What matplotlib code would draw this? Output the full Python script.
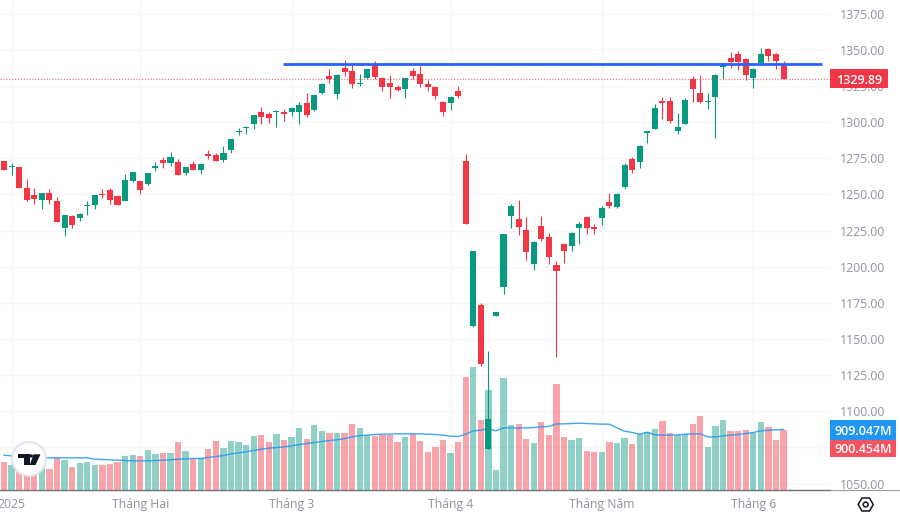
import numpy as np
import matplotlib
matplotlib.use("Agg")
import matplotlib.pyplot as plt
from matplotlib.lines import Line2D
from matplotlib.patches import Circle, Polygon, RegularPolygon, Rectangle
from matplotlib.transforms import IdentityTransform

open_ = [1273.0,1269.3,1268.8,1254.7,1249.4,1246.0,1251.0,1245.7,1226.8,1235.1,1233.5,1241.8,1242.7,1250.1,1252.9,1248.7,
 1245.5,1259.6,1259.1,1257.0,1268.6,1273.6,1272.0,1272.7,1265.1,1271.1,1267.2,1278.0,1277.3,1273.9,1280.8,1293.0,1295.8,
 1298.6,1307.3,1305.5,1307.3,1307.3,1307.3,1306.9,1313.1,1308.2,1320.0,1332.0,1319.3,1337.8,1335.7,1326.5,1330.6,1340.3,
 1330.6,1327.2,1324.2,1323.2,1335.7,1333.4,1326.2,1324.6,1314.0,1313.1,1321.9,
 1273.2,1159.2,1173.5,1073.7,1166.1,1185.7,1234.9,1232.8,1225.4,1201.6,1228.4,1220.6,1201.4,1215.9,1214.6,1227.0,1234.6,1227.5,1233.9,1244.8,1241.1,
 1255.2,1274.6,1272.5,1292.8,1295.1,1314.5,1314.7,1293.7,1298.6,1329.9,1320.5,1314.0,1317.2,1338.2,1344.5,1347.0,1343.8,1330.8,1341.2,1350.7,1347.0,1339.4]
high = [1273.0,1271.6,1269.3,1260.5,1254.3,1251.0,1253.6,1248.0,1236.0,1235.6,1237.4,1245.7,1249.6,1253.6,1254.3,1249.4,
 1264.2,1265.6,1259.1,1265.1,1272.3,1275.7,1279.4,1274.3,1268.8,1273.0,1270.9,1280.8,1278.9,1283.8,1288.6,1296.0,1297.4,
 1305.0,1310.3,1307.1,1308.5,1308.9,1310.3,1314.0,1320.0,1318.6,1326.9,1336.6,1333.4,1343.1,1341.2,1333.4,1336.8,1342.4,
 1331.1,1332.9,1325.8,1330.4,1337.8,1338.9,1329.2,1325.1,1314.7,1317.9,1325.1,
 1278.0,1211.1,1174.7,1141.9,1168.7,1222.6,1243.2,1246.2,1234.2,1217.8,1235.1,1223.1,1203.7,1216.4,1224.3,1230.7,1235.1,1229.6,1241.8,1251.2,1251.0,
 1271.6,1275.7,1284.2,1294.2,1312.4,1317.2,1317.2,1306.4,1317.0,1332.0,1332.7,1320.5,1333.4,1340.8,1348.6,1349.1,1344.5,1337.3,1351.2,1351.2,1347.7,1342.2]
low = [1266.7,1263.7,1254.7,1245.7,1243.4,1240.2,1243.7,1230.7,1221.3,1227.0,1231.4,1235.8,1240.2,1247.3,1243.4,1242.5,
 1245.5,1258.9,1250.3,1256.3,1266.5,1268.6,1269.7,1263.3,1263.7,1267.2,1264.2,1274.3,1273.0,1272.5,1278.9,1291.2,1291.6,
 1295.1,1299.0,1299.7,1296.9,1301.1,1304.6,1299.0,1303.9,1307.8,1319.5,1326.9,1316.3,1332.0,1323.9,1325.1,1329.7,1329.7,
 1321.6,1316.8,1321.9,1317.0,1329.7,1324.2,1321.9,1316.3,1304.3,1308.5,1317.0,
 1229.6,1158.5,1131.3,1073.7,1166.1,1180.9,1226.8,1222.2,1204.6,1197.9,1217.6,1202.1,1137.7,1202.6,1210.9,1215.7,1222.9,1222.9,1229.1,1240.9,1240.9,
 1254.0,1265.1,1268.3,1285.9,1295.1,1302.2,1299.5,1292.1,1298.6,1314.0,1313.5,1308.9,1289.3,1329.9,1337.3,1336.2,1329.2,1323.5,1340.8,1342.4,1336.6,1329.89]
close = [1266.7,1269.9,1254.7,1246.4,1246.9,1251.0,1246.0,1230.7,1236.0,1229.1,1236.5,1242.5,1249.6,1249.6,1246.2,1242.5,
 1259.8,1265.3,1253.3,1265.1,1269.7,1271.6,1275.7,1263.3,1268.8,1267.2,1270.9,1276.4,1273.0,1278.5,1288.6,1293.5,1296.9,
 1305.0,1303.6,1302.9,1308.0,1305.5,1309.9,1312.2,1304.8,1318.6,1326.2,1330.2,1332.9,1334.8,1326.7,1326.9,1336.8,1331.5,
 1324.6,1324.2,1322.3,1330.4,1332.2,1326.2,1324.2,1317.9,1307.3,1317.5,1317.9,
 1229.6,1211.1,1132.7,1094.4,1168.7,1222.6,1242.0,1227.7,1210.4,1217.3,1218.9,1207.0,1197.3,1210.9,1223.6,1229.3,1226.8,1226.3,1240.4,1242.0,1250.6,
 1270.4,1267.2,1283.3,1294.0,1309.8,1313.5,1301.1,1297.0,1315.6,1323.2,1314.0,1314.7,1332.9,1340.1,1341.9,1341.9,1332.9,1336.8,1347.2,1345.8,1342.4,1329.89]
volume = [413,378,390,300,310,340,307,469,444,338,398,413,368,368,388,413,504,529,514,590,539,549,559,726,580,454,484,620,736,630,
 736,716,675,811,832,716,842,756,801,937,771,978,892,852,852,852,998,932,822,811,827,822,716,796,837,736,570,640,756,559,716,
 1704,1850,1048,1502,292,1683,978,998,771,706,1028,822,1598,791,746,786,580,570,564,726,696,776,690,837,877,912,1043,852,822,847,
 988,1114,640,958,1048,892,892,907,862,1028,942,756,900.454]
vol_ma = [519,509,504,499,494,489,479,479,479,479,479,479,459,454,449,444,438,433,433,433,438,444,449,459,464,469,469,484,499,514,
 539,554,570,590,610,625,635,645,660,680,695,711,726,741,751,771,796,816,822,832,837,837,842,842,842,842,837,832,822,806,801,837,
 887,897,922,887,932,932,932,932,937,948,953,993,993,998,1003,998,993,988,988,932,882,862,837,867,827,822,822,827,837,842,842,796,
 796,811,822,832,847,862,887,897,902,909.047]
price_ticks = [1050,1075,1100,1125,1150,1175,1200,1225,1250,1275,1300,1325,1350,1375]
price_tick_labels = ["1050.00","","1100.00","1125.00","1150.00","1175.00","1200.00","1225.00","1250.00","1275.00","1300.00","1325.00","1350.00","1375.00"]
time_tick_pos = [1,18,38,59,79,99]
time_tick_labels = ["2025","Tháng Hai","Tháng 3","Tháng 4","Tháng Năm","Tháng 6"]
resistance = 1340.3
last_price = 1329.89

UP, DOWN = "#089981", "#f23645"
plt.rcParams["font.family"] = ["Open Sans", "DejaVu Sans"]

fig = plt.figure(figsize=(9, 5.17), dpi=100, facecolor="white")
ax = fig.add_axes([0, 27.5/517, 830/900, 489.5/517])
xlim = (-0.5285, 109.14)
ylim = (1045.85, 1384.6)
ax.set_xlim(*xlim); ax.set_ylim(*ylim)
ax.set_yticks(price_ticks)
ax.set_yticklabels(price_tick_labels, va="center_baseline")
ax.set_xticks(time_tick_pos); ax.set_xticklabels(time_tick_labels)
ax.grid(True, color="#f5f6f7", lw=1)
ax.set_axisbelow(True)
for s in ("top", "left", "right"):
    ax.spines[s].set_visible(False)
ax.spines["bottom"].set_color("#6f727c")
ax.spines["bottom"].set_linewidth(1.0)

idx = np.arange(len(close))
o, h, l, c = map(np.array, (open_, high, low, close))
cols = np.where(c >= o, UP, DOWN)

axv = ax.twinx()
axv.set_ylim(0, 7405)
axv.set_yticks([])
axv.patch.set_visible(False)
for s in axv.spines.values():
    s.set_visible(False)
axv.bar(idx, volume, width=0.83, color=cols, alpha=0.45, linewidth=0)
axv.plot(idx, vol_ma, color="#2196f3", lw=1.0, alpha=0.85, solid_joinstyle="round")

axc = ax.twinx()
axc.set_ylim(*ylim)
axc.set_yticks([])
axc.patch.set_visible(False)
for s in axc.spines.values():
    s.set_visible(False)
axc.vlines(idx, l, h, colors=cols, lw=0.8)
axc.bar(idx, np.maximum(np.abs(c - o), 0.6), bottom=np.minimum(o, c), width=0.8,
        color=cols, linewidth=0)
axc.axhline(last_price, color=DOWN, lw=0.8, ls=(0, (1, 1.6)), alpha=0.75)
axc.hlines(resistance, 36.9, 108.1, color="#2962ff", lw=2.0)

# twinx moves the price labels to the left, so set the right side after it
ax.yaxis.tick_right()
ax.tick_params(axis="both", length=0, labelsize=8.8, labelcolor="#8f939e")
ax.tick_params(axis="y", pad=7)
ax.tick_params(axis="x", pad=6)

ident = IdentityTransform()
H = 517
def P(x, y):
    return (x, H - y)

fig.add_artist(Line2D([831, 900], [H - 489.5, H - 489.5], transform=ident, color="#9a9da5", lw=0.8, zorder=4))

def badge(y0, y1, x1, color, label):
    fig.add_artist(Rectangle(P(830, y1), x1 - 830, y1 - y0, transform=ident, facecolor=color,
                             edgecolor="none", zorder=5))
    fig.text(((830 + x1) / 2) / 900, 1 - ((y0 + y1) / 2) / H, label, color="white",
             fontsize=9, ha="center", va="center_baseline", zorder=6, fontweight=600)

badge(69.3, 88.3, 888, "#f23645", f"{last_price:.2f}")
badge(420, 439.5, 896, "#2196f3", "909.047M")
badge(439.5, 456.7, 896, "#f7525f", "900.454M")

fig.add_artist(Circle(P(29, 459), 17, transform=ident, facecolor="white", edgecolor="#e0e3eb",
                      lw=1.4, zorder=5))
logo_col = "#131722"
T = [(18, 454.3), (29.5, 454.3), (29.5, 465), (23.5, 465), (23.5, 458), (18, 458)]
V = [(33.5, 454.3), (40.5, 454.3), (35.5, 465), (29.8, 465)]
fig.add_artist(Polygon([P(*q) for q in T], transform=ident, facecolor=logo_col, edgecolor="none", zorder=6))
fig.add_artist(Polygon([P(*q) for q in V], transform=ident, facecolor=logo_col, edgecolor="none", zorder=6))
fig.add_artist(Circle(P(31.3, 456), 1.7, transform=ident, facecolor=logo_col, edgecolor="none", zorder=6))

fig.add_artist(RegularPolygon(P(865.7, 504.5), 6, radius=7.5, orientation=np.pi / 2, transform=ident,
                              facecolor="white", edgecolor="#131722", lw=1.1, zorder=5))
fig.add_artist(Circle(P(865.7, 504.5), 2.4, transform=ident, facecolor="white", edgecolor="#131722",
                      lw=1.1, zorder=6))

fig.savefig("out.png", dpi=100, facecolor="white")
